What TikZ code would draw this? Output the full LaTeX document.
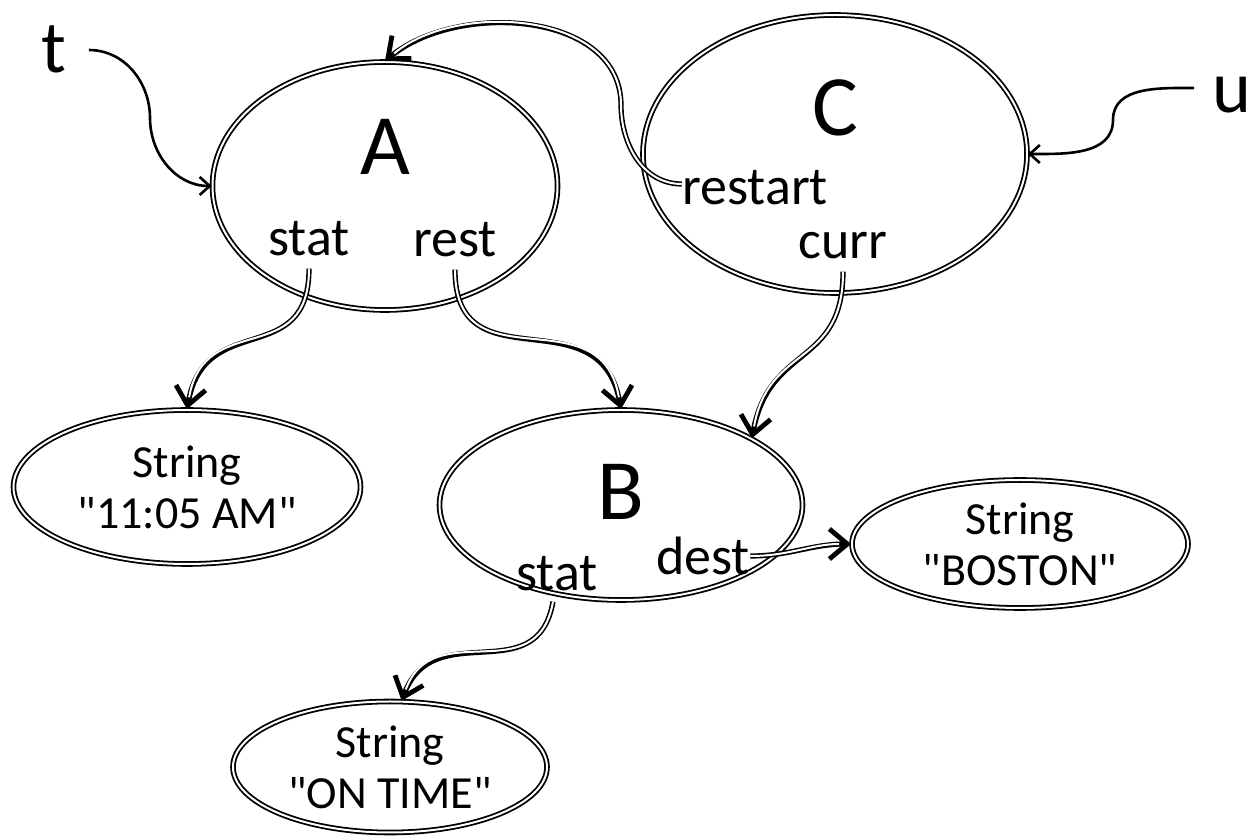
\documentclass[tikz,border=0pt]{standalone}
\usepackage{fontspec}
\setmainfont{Carlito}[Ligatures=TeXOff]
\usetikzlibrary{shapes.geometric,arrows.meta,calc}
\begin{document}
\begin{tikzpicture}[x=0.5pt,y=0.5pt,
  obj/.style={ellipse, draw, double, double distance=1pt, line width=0.9pt, inner sep=0pt},
  big/.style={font=\fontsize{43}{48}\selectfont, inner sep=0pt},
  varname/.style={font=\fontsize{37}{40}\selectfont, inner sep=0pt},
  fld/.style={font=\fontsize{27}{30}\selectfont, inner sep=0pt},
  str/.style={font=\fontsize{23}{25.5}\selectfont, align=center, inner sep=0pt},
  ref/.style={draw, line width=2.6pt,
    -{Straight Barb[length=9pt,width=15pt,line width=2.4pt]},
    postaction={draw=white, line width=1pt, -, shorten >=6pt}},
  var/.style={draw, line width=1.3pt,
    -{Straight Barb[length=5pt,width=9pt,line width=1.3pt]}}
]
\useasboundingbox (0,0) rectangle (1259,-838);

% object ellipses
\node[obj, minimum width=172.5pt, minimum height=124pt] (A) at (385,-186) {};
\node[obj, minimum width=192pt, minimum height=139pt] (C) at (835,-154) {};
\node[obj, minimum width=181.5pt, minimum height=95pt] (B) at (621,-505) {};
\node[obj, minimum width=173.5pt, minimum height=77pt] (S1) at (187,-487) {};
\node[obj, minimum width=168pt, minimum height=64pt] (S2) at (1020,-544) {};
\node[obj, minimum width=157pt, minimum height=65.5pt] (S3) at (390,-767) {};

% string contents
\node[str] (S1t) at (S1) {String\\"11:05 AM"};
\node[str] (S2t) at (S2) {String\\"BOSTON"};
\node[str] (S3t) at (S3) {String\\"ON TIME"};

% big letters
\node[big] (Al) at (385,-147) {A};
\node[big] (Cl) at (835,-108) {C};
\node[big] (Bl) at (621,-492) {B};
\node[varname] (tl) at (54,-49) {t};
\node[varname] (ul) at (1232,-95) {u};

% field labels
\node[fld] (As) at (309,-239) {stat};
\node[fld] (Ar) at (455,-240) {rest};
\node[fld] (Cr) at (755,-188) {restart};
\node[fld] (Cc) at (843,-246) {curr};
\node[fld] (Bs) at (557,-574) {stat};
\node[fld] (Bd) at (703,-556) {dest};

% waypoints
\coordinate (tw) at (150,-118);
\coordinate (uw) at (1113,-120);
\coordinate (rw) at (621,-105);

% variable arrows
\draw[var] ([xshift=11pt,yshift=-0.5pt]tl.east) to[out=0,in=90] (tw) to[out=-90,in=180] (A.west);
\draw[var] ([xshift=-9pt,yshift=3.5pt]ul.west) to[out=180,in=90] (uw) to[out=-90,in=0] (C.east);

% reference arrows
\draw[ref] ([yshift=-6pt]As.south) to[out=-90,in=80,looseness=1.4] (S1.north);
\draw[ref] ([yshift=-6pt]Ar.south) to[out=-90,in=100,looseness=1.4] (B.north);
\draw[ref] ([yshift=-6pt]Cc.south) to[out=-90,in=80,looseness=1.3] (B.27);
\draw[ref] ([xshift=-2pt,yshift=-5pt]Bs.south) to[out=-100,in=70,looseness=1.3] (S3.80);
\draw[ref] (Bd.east) to[out=0,in=180] (S2.west);
\draw[ref] ([yshift=2pt]Cr.west) to[out=180,in=-90] (rw) to[out=90,in=40] (A.north);
\end{tikzpicture}
\end{document}
